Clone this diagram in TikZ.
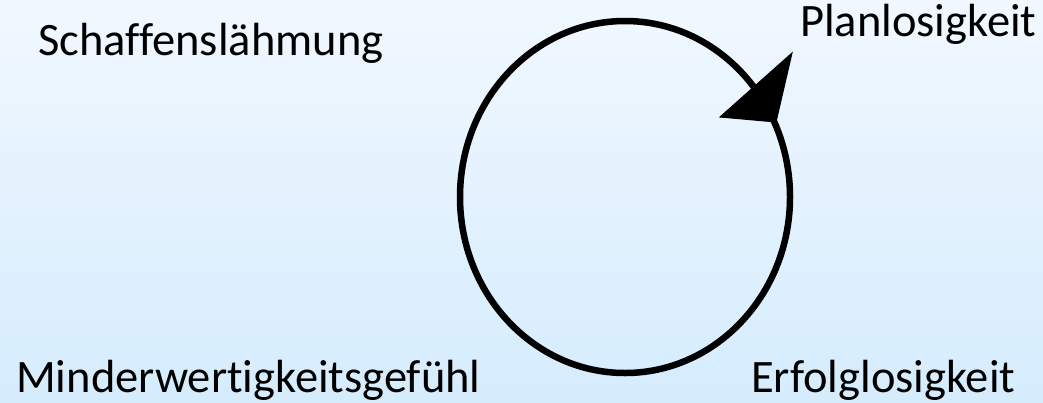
\documentclass[tikz,border=0pt]{standalone}
\usepackage{fontspec}
\setmainfont{Carlito}[Ligatures=NoCommon]
\definecolor{himmeloben}{RGB}{241,248,255}
\definecolor{himmelunten}{RGB}{213,236,253}

\begin{document}
\begin{tikzpicture}[
  x=1pt, y=-1pt,
  % Texte der vier Stationen
  every node/.style={inner sep=0pt, anchor=base west, font=\fontsize{46.5}{56}\selectfont},
  % Kreislauf und Pfeilspitze
  kreis/.style={line width=6.5pt},
  spitze/.style={fill=black, draw=black, line width=1pt, line join=miter}
]

  % Hintergrund mit Verlauf
  \shade[top color=himmeloben, bottom color=himmelunten] (0,0) rectangle (1043,402);
  \useasboundingbox (0,0) rectangle (1043,402);

  % Die vier Begriffe
  \node (schaffen) at (38,55)  {Schaffenslähmung};
  \node (plan)     at (800,36) {Planlosigkeit};
  \node (minder)   at (16,392) {Minderwertigkeitsgefühl};
  \node (erfolg)   at (751,392) {Erfolglosigkeit};

  % Kreislauf
  \draw[kreis] (625,197) ellipse [x radius=165, y radius=176];

  % Pfeilspitze
  \coordinate (tip)   at (792,53);
  \coordinate (links) at (720,117);
  \coordinate (unten) at (776,122);
  \draw[spitze] (tip) -- (links) -- (unten) -- cycle;

\end{tikzpicture}
\end{document}
